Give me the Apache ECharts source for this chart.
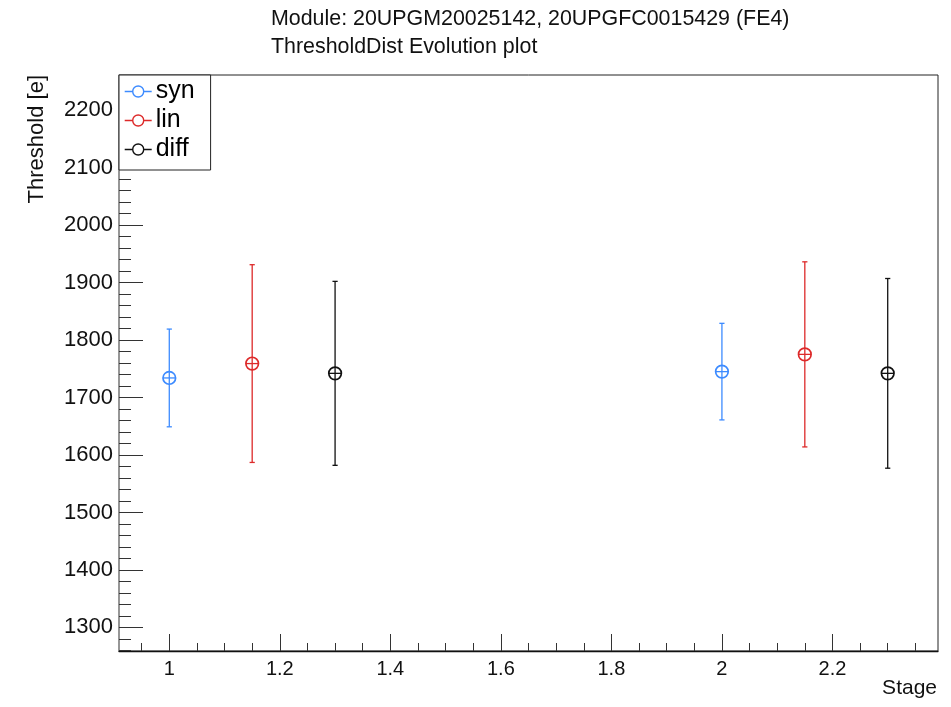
<!DOCTYPE html>
<html>
<head>
<meta charset="utf-8">
<script src="https://cdn.jsdelivr.net/npm/echarts@6/dist/echarts.min.js"></script>
<style>html,body{margin:0;padding:0;background:#fff;}#c{width:951px;height:707px;}</style>
</head>
<body>
<div id="c"></div>
<script>
// ---- data ----
const seriesNames = ['syn', 'lin', 'diff'];
const synX = [1, 2];
const synVals = [1734, 1745];
const synErr = [85, 84];
const linX = [1.15, 2.15];
const linVals = [1759, 1775];
const linErr = [172, 161];
const diffX = [1.3, 2.3];
const diffVals = [1742, 1742];
const diffErr = [160, 165];

const xMajorTicks = [1, 1.2, 1.4, 1.6, 1.8, 2, 2.2];
const xMinorTicks = [0.95, 1.05, 1.1, 1.15, 1.25, 1.3, 1.35, 1.45, 1.5, 1.55, 1.65, 1.7, 1.75, 1.85, 1.9, 1.95, 2.05, 2.1, 2.15, 2.25, 2.3, 2.35];
const yMajorTicks = [1300, 1400, 1500, 1600, 1700, 1800, 1900, 2000, 2100, 2200];
const yMinorTicks = [1260, 1280, 1320, 1340, 1360, 1380, 1420, 1440, 1460, 1480, 1520, 1540, 1560, 1580, 1620, 1640, 1660, 1680, 1720, 1740, 1760, 1780, 1820, 1840, 1860, 1880, 1920, 1940, 1960, 1980, 2020, 2040, 2060, 2080, 2120, 2140, 2160, 2180, 2220, 2240, 2260];

const titleLine1 = 'Module: 20UPGM20025142, 20UPGFC0015429 (FE4)';
const titleLine2 = 'ThresholdDist Evolution plot';
const xTitle = 'Stage';
const yTitle = 'Threshold [e]';

// ---- style ----
const colors = { syn: '#3d8bff', lin: '#dd2a2a', diff: '#111111' };
const FONT = '"Liberation Sans", Arial, Helvetica, sans-serif';
const X_MIN = 0.909, X_MAX = 2.391;
const Y_MIN = 1259, Y_MAX = 2261;

function toData(xs, vs, es) {
  return xs.map((x, i) => [x, vs[i], es[i]]);
}

function renderErr(params, api) {
  const x = api.value(0), v = api.value(1), e = api.value(2);
  const c = api.coord([x, v]);
  const t = api.coord([x, v + e]);
  const b = api.coord([x, v - e]);
  const col = api.visual('color');
  const r = 6.3, cap = 2.6;
  const ls = { stroke: col, lineWidth: 1.3, fill: null };
  return {
    type: 'group',
    children: [
      { type: 'line', shape: { x1: c[0], y1: t[1], x2: c[0], y2: b[1] }, style: ls },
      { type: 'line', shape: { x1: c[0] - cap, y1: t[1], x2: c[0] + cap, y2: t[1] }, style: ls },
      { type: 'line', shape: { x1: c[0] - cap, y1: b[1], x2: c[0] + cap, y2: b[1] }, style: ls },
      { type: 'line', shape: { x1: c[0] - r, y1: c[1], x2: c[0] + r, y2: c[1] }, style: ls },
      { type: 'circle', shape: { cx: c[0], cy: c[1], r: r }, style: { stroke: col, lineWidth: 1.7, fill: 'rgba(0,0,0,0)' } }
    ]
  };
}

const legendIcon = 'path://M0,5.5 L8,5.5 M19,5.5 L27,5.5 M19,5.5 A5.5,5.5 0 1,1 8,5.5 A5.5,5.5 0 1,1 19,5.5 Z';

const chart = echarts.init(document.getElementById('c'), null, { renderer: 'canvas' });
chart.setOption({
  animation: false,
  backgroundColor: '#fff',
  textStyle: { fontFamily: FONT },
  title: {
    text: titleLine1 + '\n' + titleLine2,
    left: 271,
    top: 5,
    padding: 0,
    textStyle: { fontSize: 21.4, fontWeight: 'normal', color: '#111', lineHeight: 28, fontFamily: FONT }
  },
  grid: {
    left: 119, right: 13, top: 75, bottom: 56,
    show: true, borderColor: '#222', borderWidth: 1, backgroundColor: '#fff'
  },
  legend: {
    orient: 'vertical',
    left: 119, top: 75,
    padding: [4, 16, 8, 5],
    itemGap: 4,
    itemWidth: 27, itemHeight: 11,
    backgroundColor: '#fff',
    borderColor: '#222', borderWidth: 1,
    z: 10,
    textStyle: { fontSize: 25, color: '#000', lineHeight: 25, fontFamily: FONT, padding: [0, 0, 0, -1] },
    data: seriesNames.map(n => ({
      name: n, icon: legendIcon,
      itemStyle: { color: 'rgba(0,0,0,0)', borderColor: colors[n], borderWidth: 1.4 }
    }))
  },
  xAxis: [
    {
      type: 'value', min: X_MIN, max: X_MAX,
      axisLine: { show: true, lineStyle: { color: '#111', width: 1.3 } },
      axisTick: { show: true, inside: true, length: 17, customValues: xMajorTicks, lineStyle: { color: '#333' } },
      axisLabel: { show: true, customValues: xMajorTicks, fontSize: 20, color: '#111', margin: 8, fontFamily: FONT,
        formatter: v => String(Math.round(v * 10) / 10) },
      splitLine: { show: false }
    },
    {
      type: 'value', min: X_MIN, max: X_MAX, position: 'bottom',
      axisLine: { show: false },
      axisTick: { show: true, inside: true, length: 8, customValues: xMinorTicks, lineStyle: { color: '#333' } },
      axisLabel: { show: false },
      splitLine: { show: false }
    }
  ],
  yAxis: [
    {
      type: 'value', min: Y_MIN, max: Y_MAX,
      axisLine: { show: true, lineStyle: { color: '#999', width: 1.5 } },
      axisTick: { show: true, inside: true, length: 24, customValues: yMajorTicks, lineStyle: { color: '#333' } },
      axisLabel: { show: true, customValues: yMajorTicks, fontSize: 22, color: '#111', margin: 6, fontFamily: FONT,
        formatter: v => String(Math.round(v)) },
      splitLine: { show: false }
    },
    {
      type: 'value', min: Y_MIN, max: Y_MAX, position: 'left',
      axisLine: { show: false },
      axisTick: { show: true, inside: true, length: 12, customValues: yMinorTicks, lineStyle: { color: '#333' } },
      axisLabel: { show: false },
      splitLine: { show: false }
    }
  ],
  graphic: [
    {
      type: 'text', x: 937, y: 678,
      style: { text: xTitle, font: '21px ' + FONT, fill: '#111', align: 'right', verticalAlign: 'top' }
    },
    {
      type: 'text', x: 37, y: 75, rotation: Math.PI / 2,
      style: { text: yTitle, font: '22px ' + FONT, fill: '#111', align: 'right', verticalAlign: 'middle' }
    }
  ],
  series: [
    { name: 'syn', type: 'custom', renderItem: renderErr, itemStyle: { color: colors.syn }, encode: { x: 0, y: 1 }, data: toData(synX, synVals, synErr), z: 3 },
    { name: 'lin', type: 'custom', renderItem: renderErr, itemStyle: { color: colors.lin }, encode: { x: 0, y: 1 }, data: toData(linX, linVals, linErr), z: 3 },
    { name: 'diff', type: 'custom', renderItem: renderErr, itemStyle: { color: colors.diff }, encode: { x: 0, y: 1 }, data: toData(diffX, diffVals, diffErr), z: 3 }
  ]
});
</script>
</body>
</html>
